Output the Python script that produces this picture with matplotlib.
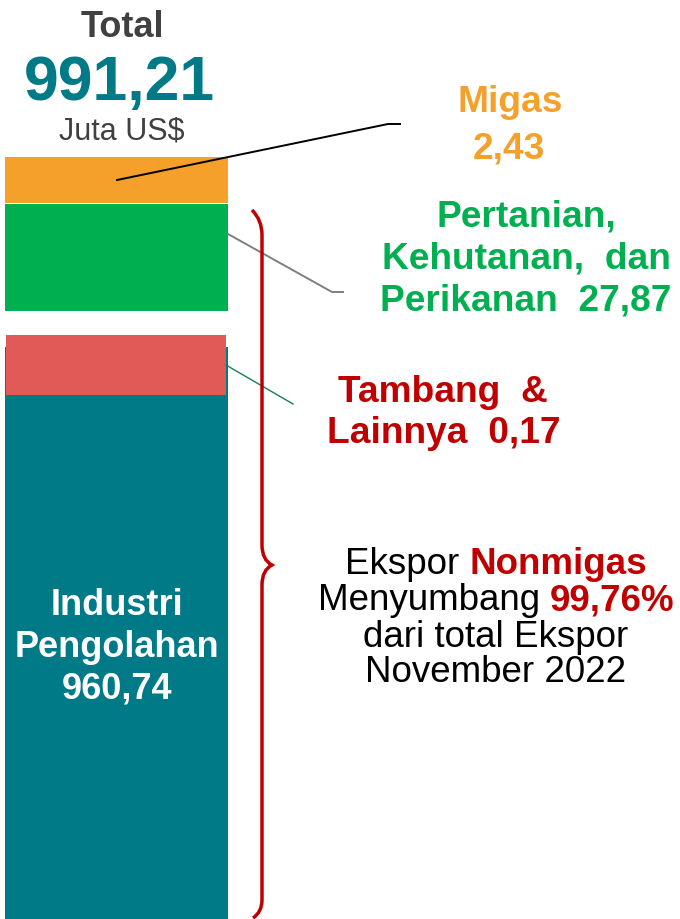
import matplotlib
matplotlib.use("Agg")
import matplotlib.pyplot as plt
from matplotlib.path import Path
from matplotlib.patches import PathPatch

plt.rcParams['font.family'] = ['Liberation Sans', 'DejaVu Sans']

# data (juta US$, November 2022)
sectors = ["Migas", "Pertanian, Kehutanan, dan Perikanan",
           "Tambang & Lainnya", "Industri Pengolahan"]
values = [2.43, 27.87, 0.17, 960.74]
total = 991.21
share_nonmigas = 99.76
period = "November 2022"

colors = ["#F5A02A", "#00B050", "#E05A57", "#007A87"]
label_colors = ["#F5A02A", "#00B050", "#C00000", "#FFFFFF"]

# schematic layout of the stacked bar (pixels, not to scale)
seg_top = [157, 204, 335, 347]
seg_bot = [203, 311, 395, 919]


def fmt(v):
    return f"{v:,.2f}".replace(",", "X").replace(".", ",").replace("X", ".")


fig = plt.figure(figsize=(6.8, 9.19), dpi=100)
ax = fig.add_axes([0, 0, 1, 1])
ax.set_xlim(0, 680)
ax.set_ylim(919, 0)
ax.axis('off')

# bars: teal first, red drawn on top of it
order = [0, 1, 3, 2]
for i in order:
    left, right = (6, 226) if i == 2 else (5, 228)
    ax.bar((left + right) / 2, seg_bot[i] - seg_top[i], width=right - left,
           bottom=seg_top[i], color=colors[i], zorder=2)

# header
ax.text(122, 37, "Total", ha='center', va='baseline', fontsize=26,
        fontweight='bold', color='#404040')
ax.text(119, 100, fmt(total), ha='center', va='baseline', fontsize=45,
        fontweight='bold', color='#007A87')
ax.text(122, 140, "Juta US$", ha='center', va='baseline', fontsize=22,
        color='#404040')

# connector lines
ax.plot([117, 388, 400], [180, 124, 124], color='black', lw=1.4, zorder=3)
ax.plot([228, 332, 343], [234, 292, 292], color='#7F7F7F', lw=1.4, zorder=3)
ax.plot([226, 293], [365, 404], color='#1A7F4B', lw=1.0, zorder=3)

# labels on the right
lab_kw = dict(ha='center', va='baseline', fontsize=26.7, fontweight='bold')
ax.text(510, 112, sectors[0], color=label_colors[0], **lab_kw)
ax.text(509, 158, fmt(values[0]), color=label_colors[0], **lab_kw)

ax.text(526, 227, "Pertanian,", color=label_colors[1], **lab_kw)
ax.text(526, 268, "Kehutanan,  dan", color=label_colors[1], **lab_kw)
ax.text(526, 311, "Perikanan  " + fmt(values[1]), color=label_colors[1], **lab_kw)

ax.text(443, 402, "Tambang  &", color=label_colors[2], **lab_kw)
ax.text(444, 443, "Lainnya  " + fmt(values[2]), color=label_colors[2], **lab_kw)

# label inside the big bar
for txt, y in zip(["Industri", "Pengolahan", fmt(values[3])], [615, 657, 698]):
    ax.text(117, y, txt, ha='center', va='baseline', fontsize=26,
            fontweight='bold', color=label_colors[3], zorder=4)

# brace
brace = Path([(252, 210), (262, 220), (262, 235),
              (262, 545), (262, 560), (272, 565),
              (262, 570), (262, 585),
              (262, 900), (262, 912), (253, 918)],
             [Path.MOVETO, Path.CURVE3, Path.CURVE3,
              Path.LINETO, Path.CURVE3, Path.CURVE3,
              Path.CURVE3, Path.CURVE3,
              Path.LINETO, Path.CURVE3, Path.CURVE3])
ax.add_patch(PathPatch(brace, fill=False, edgecolor='#C00000', lw=2.5, zorder=3))

# summary text with mixed colours
renderer = fig.canvas.get_renderer()
summary = [
    [("Ekspor ", 'normal', 'black'), ("Nonmigas", 'bold', '#C00000')],
    [("Menyumbang ", 'normal', 'black'), (fmt(share_nonmigas) + "%", 'bold', '#C00000')],
    [("dari total Ekspor", 'normal', 'black')],
    [(period, 'normal', 'black')],
]
for parts, y in zip(summary, [574, 610, 647, 682]):
    texts = [ax.text(0, y, s, ha='left', va='baseline', fontsize=26.5,
                     fontweight=w, color=c) for s, w, c in parts]
    widths = [t.get_window_extent(renderer).width for t in texts]
    x = 496 - sum(widths) / 2
    for t, w in zip(texts, widths):
        t.set_x(x)
        x += w

fig.savefig("out.png", dpi=100)
